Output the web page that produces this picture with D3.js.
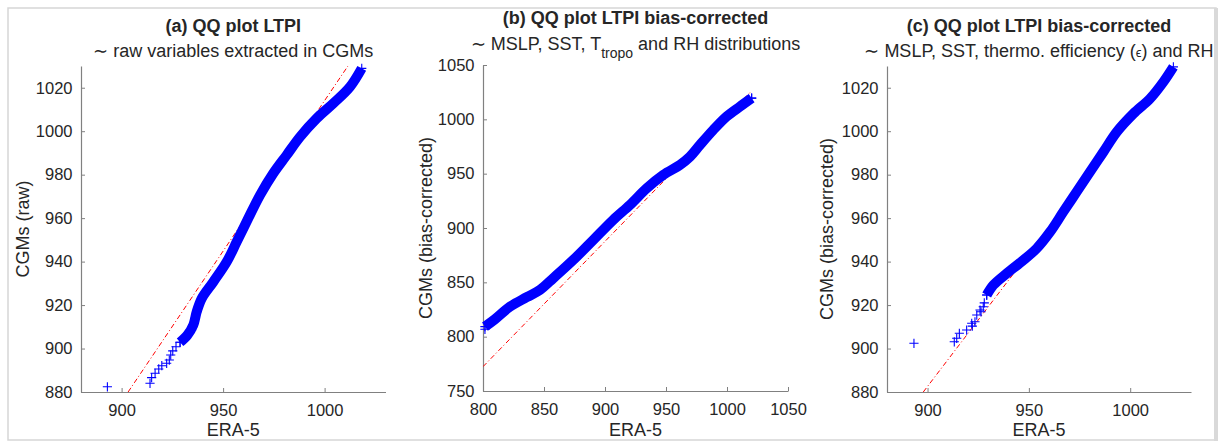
<!DOCTYPE html>
<html>
<head>
<meta charset="utf-8">
<script src="https://cdn.jsdelivr.net/npm/d3@7"></script>
<style>
  html, body { margin: 0; padding: 0; background: #fff; }
  svg { display: block; }
  text { font-family: "Liberation Sans", Arial, Helvetica, sans-serif; fill: #262626; }
</style>
</head>
<body>
<script>
// ---------------- DATA ----------------
// Panel (a): QQ plot LTPI, raw variables — dense band (ERA-5 quantile, CGM quantile)
const bandA = [
  [1018.3,1028.9],[1012.5,1020.4],[1004.3,1012.8],[996.1,1005.9],[987.9,997.4],
  [981.3,989.0],[974.7,980.6],[968.2,970.6],[962.4,959.9],[956.7,949.1],
  [951.8,939.9],[945.2,930.7],[939.5,923.1],[937.0,916.9],[935.3,910.8],
  [932.4,906.2],[928.8,902.9]
];
// Panel (a): sparse lower-tail points
const tailA = [
  [937.0,916.9],[936.2,913.9],[935.3,910.8],[934.5,908.5],[932.4,906.2],[930.4,904.4],
  [928.8,902.9],[926.8,900.8],[925.2,898.9],[924.2,897.0],[923.5,894.7],[922.2,893.2],
  [919.8,892.1],[918.3,890.6],[916.5,888.6],[914.8,886.6],[914.0,884.0],[893.0,882.4]
];
// Panel (a): reference line (quartile fit) end points
const refA = [[903.2,880],[1011.5,1030]];

// Panel (b): QQ plot LTPI bias-corrected (MSLP, SST, T_tropo, RH)
const bandB = [
  [801.6,809.2],[809.8,816.0],[822.1,827.6],[835.8,836.3],[846.7,843.0],[857.6,853.8],
  [874.0,870.6],[890.4,889.0],[906.8,907.5],[920.5,921.3],[934.2,936.6],[947.8,948.9],
  [961.5,958.1],[969.7,965.7],[977.9,976.5],[988.8,990.3],[999.7,1002.6],[1010.7,1011.8],
  [1020.2,1019.5]
];
const tailB = [[801.6,806.8],[1020.2,1019.5]];
const refB = [[800,772.4],[1020,1026.0]];

// Panel (c): QQ plot LTPI bias-corrected (MSLP, SST, thermo. efficiency, RH)
const bandC = [
  [1021.3,1029.6],[1016.4,1022.7],[1009.8,1015.0],[1001.6,1008.1],[993.4,999.7],
  [986.8,990.5],[980.2,981.3],[973.6,972.1],[967.0,962.9],[960.5,953.7],[953.9,946.1],
  [947.3,940.7],[939.1,934.6],[932.5,929.2],[929.2,924.6]
];
const tailC = [
  [929.2,924.6],[928.0,921.0],[927.5,919.2],[926.4,916.9],[925.9,917.7],[924.3,915.4],
  [923.4,912.3],[922.1,910.3],[921.8,911.6],[919.3,908.5],[915.7,907.0],[914.4,904.7],
  [913.2,903.1],[893.3,902.4]
];
const refC = [[897.9,880],[1020.6,1030]];

// Axis domains and tick labels
const xDomainA = [880,1030], yDomainA = [880,1030];
const xTicksA = [900,950,1000], yTicksA = [880,900,920,940,960,980,1000,1020];
const xDomainB = [800,1050], yDomainB = [750,1050];
const xTicksB = [800,850,900,950,1000,1050], yTicksB = [750,800,850,900,950,1000,1050];
const xDomainC = [880,1030], yDomainC = [880,1030];
const xTicksC = [900,950,1000], yTicksC = [880,900,920,940,960,980,1000,1020];

// Texts
const titles = ["(a) QQ plot LTPI", "(b) QQ plot LTPI bias-corrected", "(c) QQ plot LTPI bias-corrected"];
const xLabels = ["ERA-5", "ERA-5", "ERA-5"];
const yLabels = ["CGMs (raw)", "CGMs (bias-corrected)", "CGMs (bias-corrected)"];

// ---------------- LAYOUT ----------------
const W = 1221, H = 441;
const svg = d3.select("body").append("svg").attr("width", W).attr("height", H);

svg.append("rect").attr("x", 0).attr("y", 0).attr("width", W).attr("height", H).attr("fill", "#fff");
// light frame around the figure
svg.append("rect").attr("x", 8).attr("y", 8).attr("width", 1208).attr("height", 432)
  .attr("fill", "none").attr("stroke", "#d6d6d6").attr("stroke-width", 1.5);
svg.append("rect").attr("x", 1214).attr("y", 8).attr("width", 4).attr("height", 433).attr("fill", "#d9d9d9");

const panels = [
  { xd: xDomainA, yd: yDomainA, xt: xTicksA, yt: yTicksA, band: bandA, tail: tailA, ref: refA,
    xr: [81, 385.5], yr: [392, 66], title: titles[0], xl: xLabels[0], yl: yLabels[0],
    titleY: 31.5, subY: 57, yLabX: 28.5 },
  { xd: xDomainB, yd: yDomainB, xt: xTicksB, yt: yTicksB, band: bandB, tail: tailB, ref: refB,
    xr: [483, 788], yr: [391, 65], title: titles[1], xl: xLabels[1], yl: yLabels[1],
    titleY: 23.5, subY: 50, yLabX: 431.5 },
  { xd: xDomainC, yd: yDomainC, xt: xTicksC, yt: yTicksC, band: bandC, tail: tailC, ref: refC,
    xr: [887, 1191], yr: [392, 66], title: titles[2], xl: xLabels[2], yl: yLabels[2],
    titleY: 31.5, subY: 57, yLabX: 833 }
];

const plusPath = "M-4.6,0H4.6M0,-4.6V4.6";
const tickFont = 16.5, labelFont = 18;

panels.forEach((p, i) => {
  const x = d3.scaleLinear().domain(p.xd).range(p.xr);
  const y = d3.scaleLinear().domain(p.yd).range(p.yr);
  const g = svg.append("g");

  const clipId = "clip" + i;
  svg.append("clipPath").attr("id", clipId).append("rect")
    .attr("x", p.xr[0]).attr("y", p.yr[1]).attr("width", p.xr[1] - p.xr[0]).attr("height", p.yr[0] - p.yr[1]);

  // axes
  const fmt = d3.format("d");
  const xAxis = d3.axisBottom(x).tickValues(p.xt).tickFormat(fmt).tickSizeInner(-4).tickSizeOuter(0).tickPadding(12.3);
  const yAxis = d3.axisLeft(y).tickValues(p.yt).tickFormat(fmt).tickSizeInner(-4).tickSizeOuter(0).tickPadding(8.5);
  const gx = g.append("g").attr("transform", `translate(0,${p.yr[0]})`).call(xAxis);
  const gy = g.append("g").attr("transform", `translate(${p.xr[0]},0)`).call(yAxis);
  [gx, gy].forEach(a => {
    a.select(".domain").attr("stroke", "#808080").attr("stroke-width", 1.2);
    a.selectAll(".tick line").attr("stroke", "#808080").attr("stroke-width", 1);
    a.selectAll(".tick text").attr("font-size", tickFont).attr("fill", "#262626")
      .style("font-family", '"Liberation Sans", Arial, sans-serif');
  });

  // reference line (dash-dot red)
  g.append("line")
    .attr("clip-path", `url(#${clipId})`)
    .attr("x1", x(p.ref[0][0])).attr("y1", y(p.ref[0][1]))
    .attr("x2", x(p.ref[1][0])).attr("y2", y(p.ref[1][1]))
    .attr("stroke", "#ff0000").attr("stroke-width", 1)
    .attr("stroke-dasharray", "5,2.5,1,2.5");

  // dense band of quantile points
  const line = d3.line().x(d => x(d[0])).y(d => y(d[1])).curve(d3.curveCatmullRom);
  g.append("path").datum(p.band).attr("d", line)
    .attr("fill", "none").attr("stroke", "#0000ff").attr("stroke-width", 10)
    .attr("stroke-linejoin", "round").attr("stroke-linecap", "butt");

  // '+' markers
  g.selectAll("path.mk").data(p.band.concat(p.tail)).enter().append("path")
    .attr("class", "mk").attr("d", plusPath)
    .attr("transform", d => `translate(${x(d[0])},${y(d[1])})`)
    .attr("stroke", "#0000ff").attr("stroke-width", 1.1).attr("fill", "none");

  // titles
  const cx = (p.xr[0] + p.xr[1]) / 2;
  g.append("text").attr("x", cx).attr("y", p.titleY).attr("text-anchor", "middle")
    .attr("font-size", labelFont).attr("font-weight", "bold").attr("fill", "#000").text(p.title);

  const sub = g.append("text").attr("x", cx).attr("y", p.subY).attr("text-anchor", "middle")
    .attr("font-size", labelFont).attr("fill", "#000");
  if (i === 0) {
    sub.text("\u223C raw variables extracted in CGMs");
  } else if (i === 1) {
    sub.append("tspan").text("\u223C MSLP, SST, T");
    sub.append("tspan").attr("font-size", 14).attr("dy", 8).text("tropo");
    sub.append("tspan").attr("dy", -8).text(" and RH distributions");
  } else {
    sub.append("tspan").text("\u223C MSLP, SST, thermo. efficiency (");
    sub.append("tspan").attr("font-size", 13).text("\u03F5");
    sub.append("tspan").text(") and RH");
  }

  // axis labels
  g.append("text").attr("x", cx).attr("y", 436).attr("text-anchor", "middle")
    .attr("font-size", labelFont).text(p.xl);
  g.append("text").attr("transform", `translate(${p.yLabX},${(p.yr[0] + p.yr[1]) / 2}) rotate(-90)`)
    .attr("text-anchor", "middle").attr("font-size", labelFont).text(p.yl);
});
</script>
</body>
</html>
